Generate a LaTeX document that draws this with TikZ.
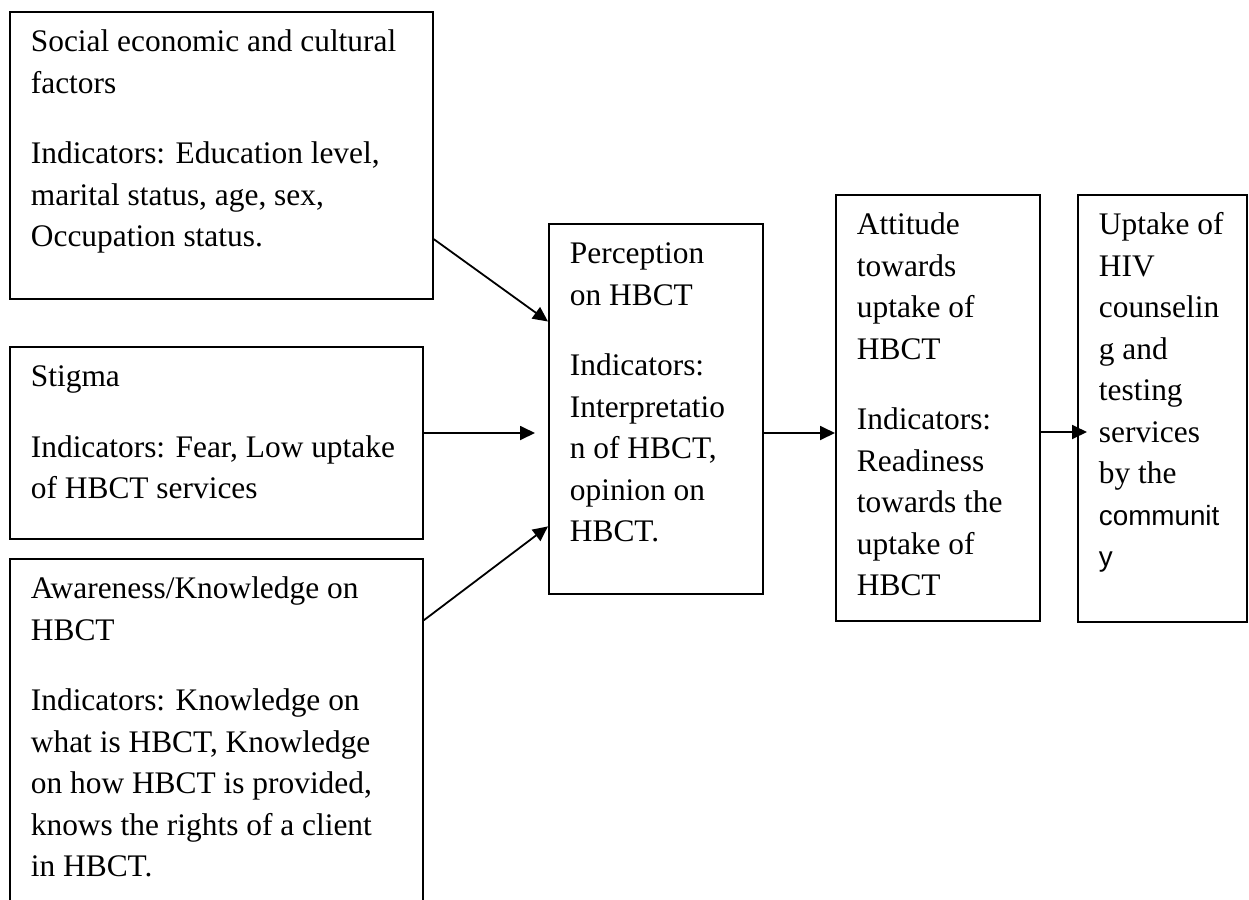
\documentclass[tikz,border=0pt]{standalone}
\usepackage{fontspec}
\setmainfont{Liberation Serif}
\setsansfont{Liberation Sans}
\usetikzlibrary{calc,arrows.meta}

\begin{document}
\begin{tikzpicture}[x=0.5pt,y=-0.5pt]
\tikzstyle{box}=[draw, line width=0.9pt, anchor=north west, inner xsep=10.5pt, inner ysep=0pt, align=flush left, text height=20pt, font=\fontsize{15.7}{20.75}\selectfont]
\tikzstyle{arr}=[line width=0.9pt, -{Triangle[length=7.5pt,width=7pt]}]
\useasboundingbox (0,0) rectangle (1249,900);
\node [box, text width=190.5pt, text depth=123.5pt] (soc) at (9,11) {Social economic and cultural\\factors\\[14.5pt]Indicators: Education level,\\marital status, age, sex,\\Occupation status.};
\node [box, text width=185.5pt, text depth=76pt] (stig) at (9,346) {Stigma\\[14.5pt]Indicators: Fear, Low uptake\\of HBCT services};
\node [box, text width=185.5pt, text depth=156pt] (aware) at (9,558) {Awareness/Knowledge on\\HBCT\\[14.5pt]Indicators: Knowledge on\\what is HBCT, Knowledge\\on how HBCT is provided,\\knows the rights of a client\\in HBCT.};
\node [box, text width=86pt, text depth=165pt] (perc) at (548,223) {Perception\\on HBCT\\[14.5pt]Indicators:\\Interpretatio\\n of HBCT,\\opinion on\\HBCT.};
\node [box, text width=81pt, text depth=193pt] (att) at (835,194) {Attitude\\towards\\uptake of\\HBCT\\[14.5pt]Indicators:\\Readiness\\towards the\\uptake of\\HBCT};
\node [box, text width=63.5pt, text depth=193.5pt] (upt) at (1077,194) {Uptake of\\HIV\\counselin\\g and\\testing\\services\\by the\\{\sffamily\fontsize{13.9}{20.75}\selectfont communit}\\{\sffamily\fontsize{13.9}{20.75}\selectfont y}};
\coordinate (stigtip) at (535,433);
\coordinate (upttip) at (1087,432);
\draw [arr] ($(soc.north east)!0.79!(soc.south east)$) -- ($(perc.north west)!0.265!(perc.south west)$);
\draw [arr] (stig.east |- stigtip) -- (stigtip);
\draw [arr] ($(aware.north east)!0.176!(aware.south east)$) -- ($(perc.north west)!0.816!(perc.south west)$);
\draw [arr] (perc.east |- stigtip) -- (att.west |- stigtip);
\draw [arr] (att.east |- upttip) -- (upttip);
\end{tikzpicture}
\end{document}
